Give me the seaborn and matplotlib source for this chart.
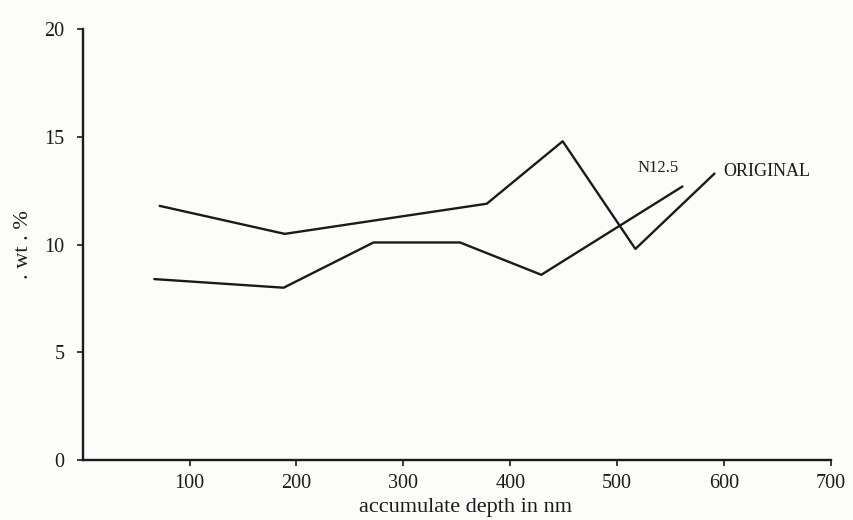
import matplotlib
matplotlib.use("Agg")
import matplotlib.pyplot as plt
import seaborn as sns
import pandas as pd

# Data
original_x = [72, 189, 378, 449, 517, 591]
original_y = [11.8, 10.5, 11.9, 14.8, 9.8, 13.3]
n125_x = [67, 188, 272, 353, 429, 561]
n125_y = [8.4, 8.0, 10.1, 10.1, 8.6, 12.7]

x_ticks = [100, 200, 300, 400, 500, 600, 700]
y_ticks = [0, 5, 10, 15, 20]

df = pd.concat([
    pd.DataFrame({"depth": original_x, "wt": original_y, "series": "ORIGINAL"}),
    pd.DataFrame({"depth": n125_x, "wt": n125_y, "series": "N12.5"}),
])

sns.set_theme(style="ticks")
plt.rcParams['font.family'] = ['Liberation Serif', 'DejaVu Serif']

ink = "#1a1a1a"
fig = plt.figure(figsize=(8.54, 5.2), dpi=100)
fig.patch.set_facecolor("#fcfcfa")
ax = fig.add_axes([0.0968, 0.1154, 0.8763, 0.8283])
ax.set_facecolor("#fcfcfa")

sns.lineplot(data=df, x="depth", y="wt", units="series", estimator=None,
             sort=False, color=ink, linewidth=1.7, ax=ax, legend=False)

ax.set_xlim(0, 700)
ax.set_ylim(0, 20)
ax.set_xticks(x_ticks)
ax.set_yticks(y_ticks)
ax.tick_params(axis="both", labelsize=14.5, length=4, width=1.2, color=ink,
               labelcolor=ink)
ax.tick_params(axis="x", pad=6)
ax.tick_params(axis="y", pad=9)
for s in ["top", "right"]:
    ax.spines[s].set_visible(False)
for s in ["left", "bottom"]:
    ax.spines[s].set_linewidth(1.7)
    ax.spines[s].set_color(ink)

ax.set_xlabel("accumulate depth in nm", fontsize=16, color=ink)
ax.xaxis.set_label_coords(0.511, -0.088)
ax.set_ylabel(". wt . %", fontsize=16, color=ink, labelpad=8)

ax.text(538, 13.55, "N12.5", fontsize=12, ha="center", va="center", color=ink)
ax.text(640, 13.4, "ORIGINAL", fontsize=13, ha="center", va="center", color=ink)

fig.savefig("out.png", dpi=100)
